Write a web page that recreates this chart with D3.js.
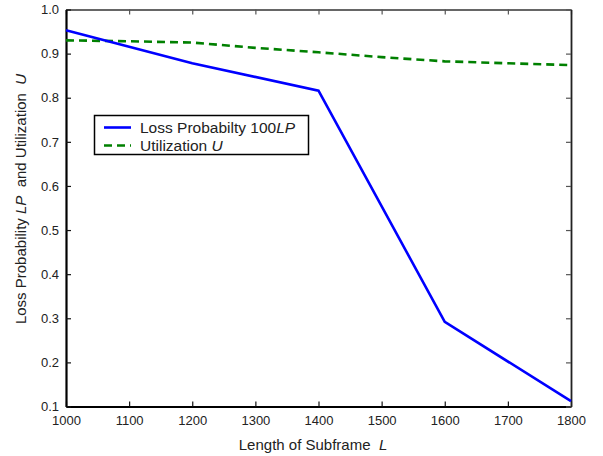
<!DOCTYPE html>
<html><head><meta charset="utf-8">
<script src="https://cdn.jsdelivr.net/npm/d3@7"></script>
<style>body{margin:0;background:#fff}svg{display:block}text{font-family:"Liberation Sans",Arial,sans-serif;fill:#222;white-space:pre}</style>
</head><body><svg id="c" width="603" height="456"></svg>
<script>
const lpX = [1000, 1200, 1400, 1600, 1800];
const lpY = [0.953, 0.878, 0.816, 0.292, 0.112];
const uX = [1000, 1100, 1200, 1300, 1400, 1500, 1600, 1700, 1800];
const uY = [0.930, 0.928, 0.925, 0.913, 0.903, 0.892, 0.8825, 0.878, 0.874];
const xTicks = [1000, 1100, 1200, 1300, 1400, 1500, 1600, 1700, 1800];
const yTicks = [0.1, 0.2, 0.3, 0.4, 0.5, 0.6, 0.7, 0.8, 0.9, 1.0];

const svg = d3.select("#c");
const L = 66, R = 571, T = 9.5, B = 406.5;
const x = d3.scaleLinear().domain([1000, 1800]).range([L, R]);
const y = d3.scaleLinear().domain([0.1, 1.0]).range([B, T]);

// inward ticks on all four sides
const gB = svg.append("g").attr("transform", `translate(0,${B})`)
  .call(d3.axisBottom(x).tickValues(xTicks).tickSizeInner(-5).tickSizeOuter(0).tickPadding(9).tickFormat(d3.format("d")));
const gT = svg.append("g").attr("transform", `translate(0,${T})`)
  .call(d3.axisTop(x).tickValues(xTicks).tickSizeInner(-5).tickSizeOuter(0).tickFormat(""));
const gL = svg.append("g").attr("transform", `translate(${L},0)`)
  .call(d3.axisLeft(y).tickValues(yTicks).tickSizeInner(-5).tickSizeOuter(0).tickPadding(7).tickFormat(d3.format(".1f")));
const gR = svg.append("g").attr("transform", `translate(${R},0)`)
  .call(d3.axisRight(y).tickValues(yTicks).tickSizeInner(-5).tickSizeOuter(0).tickFormat(""));
[gB, gT, gL, gR].forEach(g => {
  g.selectAll("text").style("font-size", "13px").attr("fill", "#2a2a2a").attr("font-family", '"Liberation Sans",Arial,sans-serif');
  g.selectAll(".tick line").attr("stroke", "#111").attr("stroke-width", 1.2);
});
gB.select(".domain").attr("stroke", "#000").attr("stroke-width", 2.2);
gL.select(".domain").attr("stroke", "#000").attr("stroke-width", 2.2);
gT.select(".domain").attr("stroke", "#333").attr("stroke-width", 1.5);
gR.select(".domain").attr("stroke", "#222").attr("stroke-width", 1.8);
gT.selectAll(".tick line").attr("stroke", "#555");
gR.selectAll(".tick line").attr("stroke", "#555");

const line = d3.line().x(d => x(d[0])).y(d => y(d[1]));
svg.append("path").datum(uX.map((v, i) => [v, uY[i]]))
  .attr("d", line).attr("fill", "none").attr("stroke", "#008000").attr("stroke-width", 2.6).attr("stroke-dasharray", "8,5");
svg.append("path").datum(lpX.map((v, i) => [v, lpY[i]]))
  .attr("d", line).attr("fill", "none").attr("stroke", "#0000ff").attr("stroke-width", 2.6);

// axis titles
const xt = svg.append("text").attr("x", 313).attr("y", 450).attr("text-anchor", "middle").style("font-size", "15px");
xt.append("tspan").text("Length of Subframe  ");
xt.append("tspan").attr("font-style", "italic").text("L");

const yt = svg.append("text").attr("transform", "translate(26,199) rotate(-90)").attr("text-anchor", "middle").style("font-size", "15px");
yt.append("tspan").text("Loss Probability ");
yt.append("tspan").attr("font-style", "italic").text("LP");
yt.append("tspan").text("  and Utilization  ");
yt.append("tspan").attr("font-style", "italic").text("U");

// legend
const lg = svg.append("g");
lg.append("rect").attr("x", 94.5).attr("y", 115.5).attr("width", 214).attr("height", 39)
  .attr("fill", "#fff").attr("stroke", "#000").attr("stroke-width", 1.5);
const legendItems = [
  { color: "#0000ff", dash: null, text: "Loss Probabilty 100", it: "LP", yy: 127.5 },
  { color: "#008000", dash: "8,5", text: "Utilization ", it: "U", yy: 145.5 }
];
legendItems.forEach(d => {
  lg.append("line").attr("x1", 104).attr("x2", 131).attr("y1", d.yy).attr("y2", d.yy)
    .attr("stroke", d.color).attr("stroke-width", 2.6).attr("stroke-dasharray", d.dash);
  const t = lg.append("text").attr("x", 140).attr("y", d.yy + 5.5).style("font-size", "15.5px");
  t.append("tspan").text(d.text);
  t.append("tspan").attr("font-style", "italic").text(d.it);
});
</script></body></html>
